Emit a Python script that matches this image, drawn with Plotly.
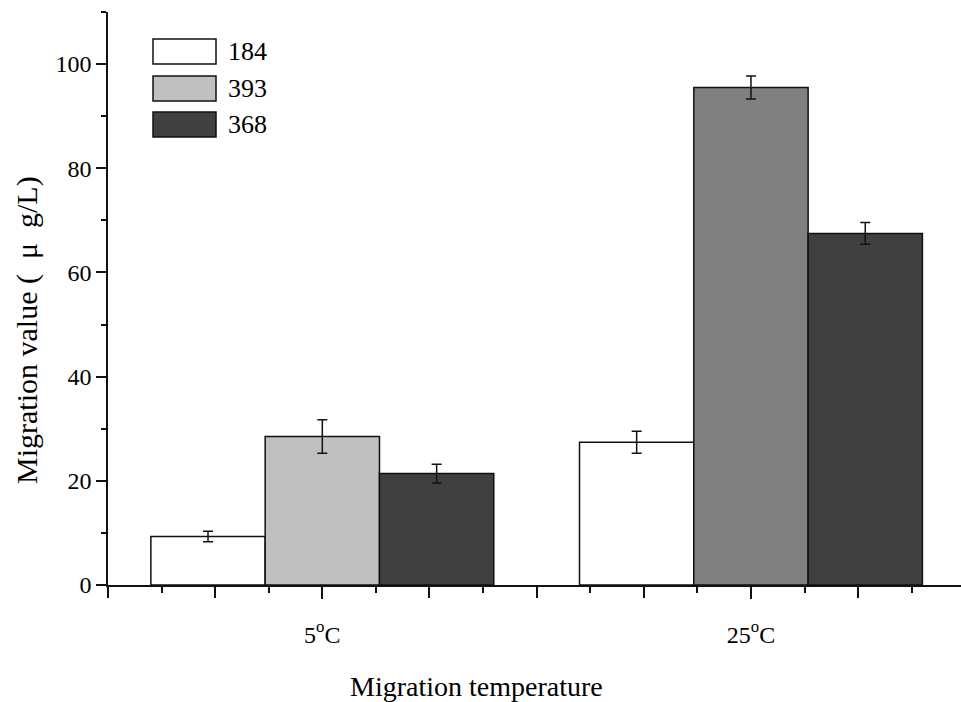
import plotly.graph_objects as go

# ---- data ----
category_pos = [1, 2]
category_labels = ["5<sup>o</sup>C", "25<sup>o</sup>C"]
series_names = ["184", "393", "368"]
values_184 = [9.3, 27.4]
errors_184 = [1.0, 2.1]
values_393 = [28.5, 95.5]
errors_393 = [3.2, 2.2]
values_368 = [21.4, 67.5]
errors_368 = [1.8, 2.1]

colors_184 = ["#ffffff", "#ffffff"]
colors_393 = ["#c0c0c0", "#808080"]
colors_368 = ["#404040", "#404040"]
legend_colors = ["#ffffff", "#c0c0c0", "#404040"]

y_ticks = [0, 20, 40, 60, 80, 100]

FONT = "Liberation Serif"
W, H = 961, 702
ML, MR, MT, MB = 108, 0, 12, 117
PW, PH = W - ML - MR, H - MT - MB
LINE = "#111111"
NB = "\u00a0"


def px2paper(px, py):
    return (px - ML) / PW, (H - MB - py) / PH


fig = go.Figure()
for name, vals, errs, cols in [
    (series_names[0], values_184, errors_184, colors_184),
    (series_names[1], values_393, errors_393, colors_393),
    (series_names[2], values_368, errors_368, colors_368),
]:
    fig.add_trace(go.Bar(
        x=category_pos, y=vals, name=name,
        marker=dict(color=cols, line=dict(color=LINE, width=1.5)),
        error_y=dict(type="data", array=errs, visible=True,
                     color=LINE, thickness=1.5, width=5),
        showlegend=False,
    ))

# x tick positions (axis decoration)
major_x = [0.5 + 0.25 * i for i in range(8)]
minor_x = [0.625 + 0.25 * i for i in range(8)]
XR = [0.5, 2.49]

fig.update_layout(
    width=W, height=H,
    margin=dict(l=ML, r=MR, t=MT, b=MB),
    paper_bgcolor="white", plot_bgcolor="white",
    font=dict(family=FONT, size=24, color="black"),
    barmode="group", bargap=0.2, bargroupgap=0,
    xaxis=dict(
        range=XR, showgrid=False, zeroline=False,
        showline=True, linecolor=LINE, linewidth=1.5,
        tickmode="array", tickvals=category_pos, ticktext=category_labels,
        ticks="outside", ticklen=12, tickwidth=1.5, tickcolor=LINE,
        ticklabelstandoff=15,
        minor=dict(tickmode="array", tickvals=minor_x, ticks="outside",
                   ticklen=6, tickwidth=1.5, tickcolor=LINE),
        tickfont=dict(family=FONT, size=24),
    ),
    xaxis2=dict(
        range=XR, overlaying="x", anchor="y", side="bottom",
        showgrid=False, zeroline=False, showline=False,
        tickmode="array", tickvals=major_x, showticklabels=False,
        ticks="outside", ticklen=12, tickwidth=1.5, tickcolor=LINE,
    ),
    yaxis=dict(
        range=[0, 110], showgrid=False, zeroline=False,
        showline=True, linecolor=LINE, linewidth=1.5,
        tickmode="array", tickvals=y_ticks,
        ticks="outside", ticklen=10, tickwidth=1.5, tickcolor=LINE,
        minor=dict(dtick=10, tick0=0, ticks="outside", ticklen=5,
                   tickwidth=1.5, tickcolor=LINE),
        tickfont=dict(family=FONT, size=24),
    ),
)
# invisible trace so the overlay axis is drawn
fig.add_trace(go.Scatter(x=[XR[0]], y=[0], xaxis="x2", mode="markers",
                         marker=dict(opacity=0), hoverinfo="skip",
                         showlegend=False))

# axis titles
tx, ty = px2paper(476, 686)
fig.add_annotation(text="Migration temperature", xref="paper", yref="paper",
                   x=tx, y=ty, showarrow=False,
                   font=dict(family=FONT, size=28),
                   xanchor="center", yanchor="middle")
tx, ty = px2paper(27, 330)
ytitle = "Migration value (" + NB * 2 + "μ" + NB * 2 + "g/L)"
fig.add_annotation(text=ytitle, xref="paper", yref="paper",
                   x=tx, y=ty, showarrow=False,
                   font=dict(family=FONT, size=30),
                   textangle=-90, xanchor="center", yanchor="middle")

# custom legend with wide swatches
row_tops = [39, 76, 112]
for name, col, top in zip(series_names, legend_colors, row_tops):
    x0, y0 = px2paper(153, top)
    x1, y1 = px2paper(216, top + 25)
    fig.add_shape(type="rect", xref="paper", yref="paper",
                  x0=x0, x1=x1, y0=y1, y1=y0, fillcolor=col,
                  line=dict(color=LINE, width=1.5))
    lx, ly = px2paper(226, top + 12.5)
    fig.add_annotation(text=name, xref="paper", yref="paper", x=lx, y=ly,
                       showarrow=False, xanchor="left", yanchor="middle",
                       font=dict(family=FONT, size=26))

fig.write_html("out.html")
